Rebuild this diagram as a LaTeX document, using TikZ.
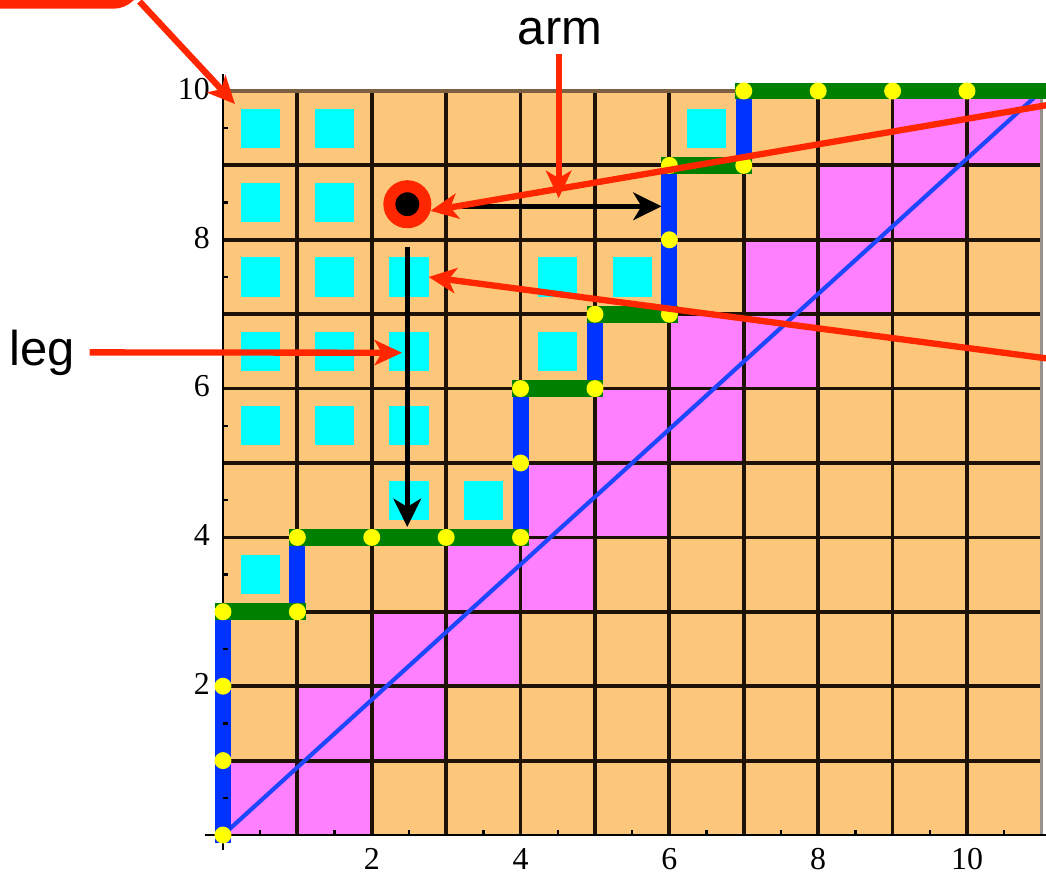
\documentclass[tikz,border=0pt]{standalone}
\usepackage{fontspec}
\setmainfont{Liberation Serif}
\newfontfamily\labelfont{Liberation Sans}
\usetikzlibrary{arrows.meta}
\definecolor{cellorange}{RGB}{253,199,123}
\definecolor{cellmagenta}{RGB}{255,128,255}
\definecolor{sqcyan}{RGB}{0,255,255}
\definecolor{pathblue}{RGB}{0,51,255}
\definecolor{diagblue}{RGB}{30,70,255}
\definecolor{pathgreen}{RGB}{0,128,0}
\definecolor{dotyellow}{RGB}{255,255,0}
\definecolor{annred}{RGB}{255,38,0}
\definecolor{gridline}{RGB}{30,18,6}
\definecolor{topline}{RGB}{125,95,65}
\definecolor{rightline}{RGB}{150,145,140}
\begin{document}
\begin{tikzpicture}[x=1cm,y=1cm,
  gridln/.style={draw=gridline, line width=1.45pt},
  axisln/.style={draw=black, line width=0.95pt},
  cyansq/.style={fill=sqcyan, minimum size=0.528cm, inner sep=0, outer sep=0},
  bluerun/.style={draw=pathblue, line width=0.215cm, line cap=rect},
  greenrun/.style={draw=pathgreen, line width=0.225cm, line cap=rect},
  ydot/.style={circle, fill=dotyellow, minimum size=0.228cm, inner sep=0},
  redarrow/.style={draw=annred, line width=0.085cm, -{Stealth[length=0.37cm, width=0.34cm, inset=0.1cm]}},
  blackarrow/.style={draw=black, line width=0.062cm, -{Stealth[length=0.38cm, width=0.37cm, inset=0.11cm]}},
  ticklbl/.style={font=\fontsize{12.2pt}{14pt}\selectfont, inner sep=0},
  annlbl/.style={font=\labelfont\fontsize{18.7pt}{22pt}\selectfont},
]
\useasboundingbox (-2.997,-0.511) rectangle (11.062,11.223);
\clip (-2.997,-0.511) rectangle (11.062,11.223);

% cells
\fill[cellorange] (0,0) rectangle (11,10);
\foreach \r in {0,...,9} {
  \fill[cellmagenta] (\r,\r) rectangle (\r+2,\r+1);
}

% grid
\foreach \i in {1,...,10} { \draw[gridln] (\i,0) -- (\i,10); }
\foreach \j in {1,...,9} { \draw[gridln] (0,\j) -- (11,\j); }
\draw[draw=topline, line width=1.2pt] (0,10) -- (11,10);
\draw[draw=rightline, line width=1.2pt] (11,0) -- (11,10);

% diagonal
\draw[diagblue, line width=1.6pt] (0,0) -- (11,10);

% cyan squares
\foreach \c/\r in {0/9,1/9,6/9,0/8,1/8,0/7,1/7,2/7,4/7,5/7,0/6,1/6,2/6,4/6,0/5,1/5,2/5,2/4,3/4,0/3} {
  \node[cyansq] (c-\c-\r) at (\c+0.5,\r+0.5) {};
}

% axes
\draw[axisln] (-0.242,0) -- (11.1,0);
\draw[axisln] (0,-0.2) -- (0,10.23);

% lattice path
\draw[bluerun] (0,0) -- (0,3);
\draw[bluerun] (1,3) -- (1,4);
\draw[bluerun] (4,4) -- (4,6);
\draw[bluerun] (5,6) -- (5,7);
\draw[bluerun] (6,7) -- (6,9);
\draw[bluerun] (7,9) -- (7,10);
\draw[greenrun] (0,3) -- (1,3);
\draw[greenrun] (1,4) -- (4,4);
\draw[greenrun] (4,6) -- (5,6);
\draw[greenrun] (5,7) -- (6,7);
\draw[greenrun] (6,9) -- (7,9);
\draw[greenrun] (7,10) -- (11.2,10);

% ticks
\foreach \t in {0.5,1.5,...,9.5} { \draw[axisln] (0,\t) -- (0.07,\t); }
\foreach \t in {0.5,1.5,...,10.5} { \draw[axisln] (\t,0) -- (\t,0.07); }

% dots
\foreach \x/\y [count=\k] in {0/0,0/1,0/2,0/3,1/3,1/4,2/4,3/4,4/4,4/5,4/6,5/6,5/7,6/7,6/8,6/9,7/9,7/10,8/10,9/10,10/10} {
  \node[ydot] (d-\k) at (\x,\y) {};
}

% axis labels
\foreach \v in {2,4,6,8,10} {
  \node[ticklbl, anchor=east] (ylab-\v) at (-0.17,\v+0.03) {\v};
  \node[ticklbl] (xlab-\v) at (\v,-0.32) {\v};
}

% ring and black arrows
\node[circle, fill=black, draw=annred, line width=0.161cm, minimum size=0.484cm, inner sep=0] (ring) at (2.478,8.478) {};
\coordinate (armA) at (3.21,8.45);
\coordinate (armB) at (5.895,8.45);
\coordinate (legA) at (2.477,7.9);
\coordinate (legB) at (2.477,4.14);
\draw[blackarrow] (armA) -- (armB);
\draw[blackarrow] (legA) -- (legB);

% annotations
\node[draw=annred, line width=0.115cm, rounded corners=0.336cm, minimum width=3cm, minimum height=1.2cm, inner sep=0, outer sep=0, anchor=south east] (box) at (-1.142,11.163) {};
\coordinate (tl) at (0.161,9.825);
\draw[redarrow] ([shift={(0.02,0.04)}]box.south east) -- (tl);

\node[annlbl, anchor=base, inner sep=0.11cm] (arm) at (4.53,10.625) {arm};
\coordinate (armtip) at (4.512,8.558);
\draw[redarrow] (arm.south -| armtip) -- (armtip);

\node[annlbl, anchor=base, inner xsep=0.19cm, inner ysep=0] (leg) at (-2.429,6.317) {leg};
\coordinate (legtip) at (2.406,6.482);
\draw[redarrow] (leg.east) -- (legtip);

\coordinate (R1) at (11.25,9.84);
\draw[redarrow] (R1) -- (ring.-16);
\coordinate (R2) at (11.25,6.382);
\draw[redarrow] (R2) -- (c-2-7.east);
\end{tikzpicture}
\end{document}
